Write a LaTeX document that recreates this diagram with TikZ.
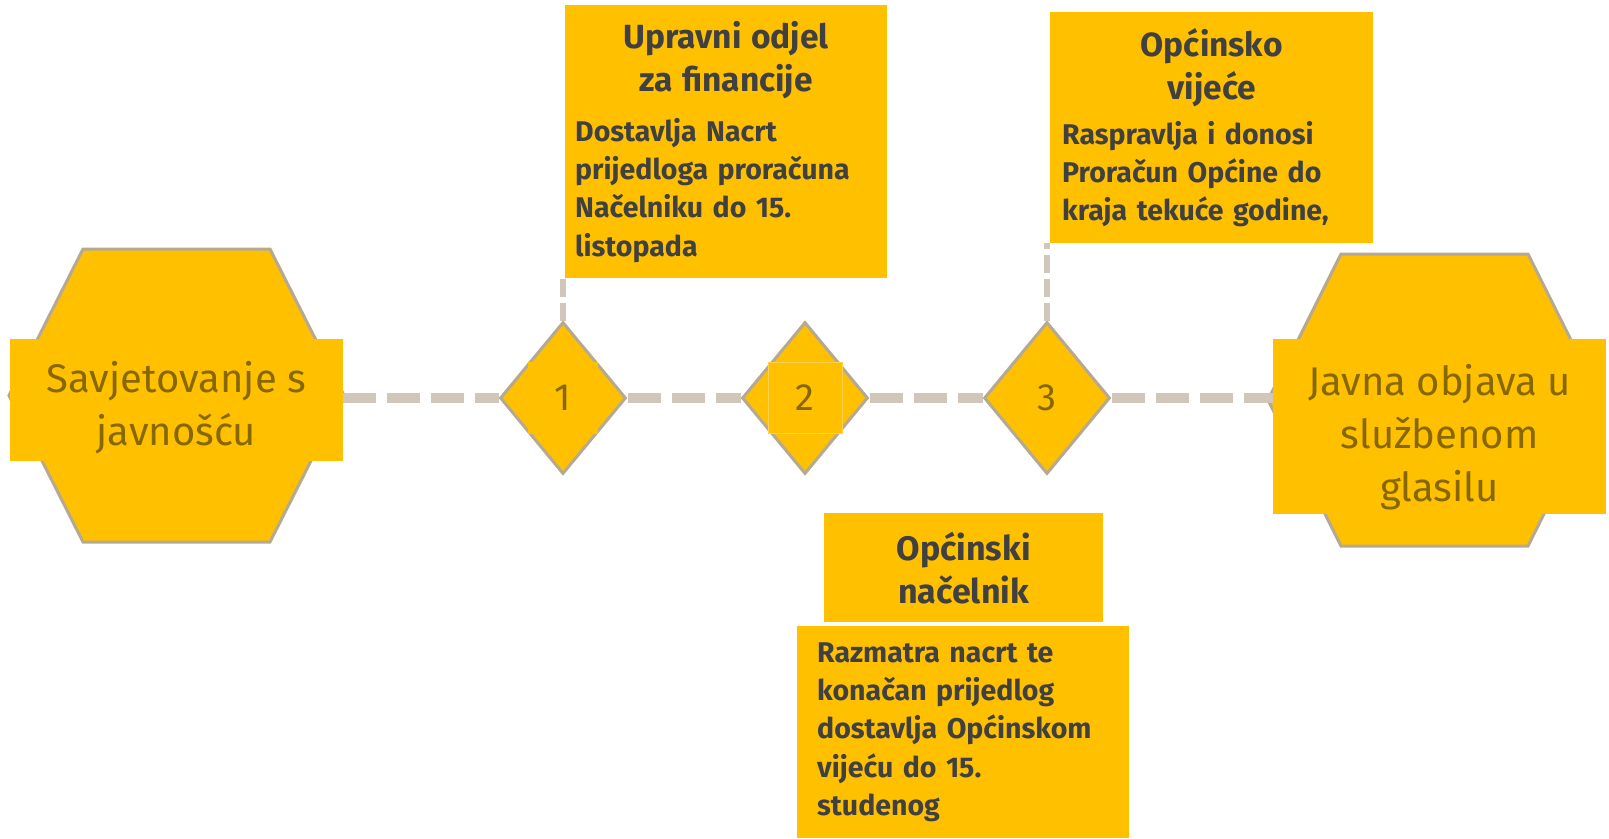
\documentclass[tikz,border=0pt]{standalone}
\usepackage{fontspec}
\setmainfont{Fira Sans}
\usetikzlibrary{shapes.geometric}

\definecolor{gold}{HTML}{FFC000}
\definecolor{inkgray}{HTML}{404040}
\definecolor{olive}{HTML}{876800}
\definecolor{rim}{HTML}{B5A993}
\definecolor{dashgray}{HTML}{D0C6B9}
\definecolor{paleedge}{HTML}{FFD24D}

\newcommand{\boxhead}[2][10pt]{{\centering\fontsize{33.5}{43}\selectfont #2\par}\vspace{#1}}

\tikzset{
  hexa/.style={fill=gold, draw=rim, line width=3pt, line join=miter},
  hexbox/.style={fill=gold, text=olive, align=center, inner sep=0pt, font=\fontsize{40}{53}\selectfont},
  rhomb/.style={diamond, fill=gold, draw=rim, line width=3pt, inner sep=0pt, minimum width=126pt, minimum height=152pt},
  numbox/.style={fill=gold, text=olive, inner sep=0pt, minimum height=72pt, font=\fontsize{38}{44}\selectfont},
  infobox/.style={fill=gold, text=inkgray, align=left, inner ysep=0pt, anchor=north west, font=\bfseries\fontsize{28.5}{38.3}\selectfont},
  headbox/.style={fill=gold, text=inkgray, align=center, inner sep=0pt, anchor=north west, font=\bfseries\fontsize{34}{43}\selectfont},
  timeline/.style={draw=dashgray, line width=10pt, dash pattern=on 33pt off 11pt},
  drop/.style={draw=dashgray, line width=6pt, dash pattern=on 18pt off 6pt},
}

\begin{document}
\begin{tikzpicture}[x=1pt,y=-1pt]
        \useasboundingbox (0,0) rectangle (1609,838);

        % hexagons at both ends
        \draw[hexa] (9,395.5) -- ++(74,-146.5) -- ++(187,0) -- ++(74,146.5) -- ++(-74,146.5) -- ++(-187,0) -- cycle;
        \draw[hexa] (1268,400) -- ++(73,-146) -- ++(187,0) -- ++(73,146) -- ++(-73,146) -- ++(-187,0) -- cycle;
        \node[hexbox, minimum width=333pt, minimum height=122pt, text height=100pt] (start) at (176.5,400) {Savjetovanje s\\javnošću};
        \node[hexbox, minimum width=333pt, minimum height=175pt, text height=158pt] (finish) at (1439.5,426.5) {Javna objava u\\službenom\\glasilu};

        % steps
        \node[rhomb] (d1) at (563,398) {};
        \node[rhomb] (d2) at (805,398) {};
        \node[rhomb] (d3) at (1047,398) {};

        \draw[timeline] (d1 -| start.east) -- (d1);
        \draw[timeline] (d1) -- (d2);
        \draw[timeline] (d2) -- (d3);
        \draw[timeline] (d3) -- (d3 -| finish.west);

        \node[numbox, minimum width=70pt] (n1) at (d1) {1};
        \node[numbox, minimum width=74pt, minimum height=71pt, draw=paleedge, line width=0.8pt] (n2) at (d2) {2};
        \node[numbox, minimum width=60pt] (n3) at (d3) {3};

        % descriptions
        \node[infobox, text width=302pt, minimum height=273pt, inner xsep=10pt] (box1) at (565,5)
                {\boxhead[12pt]{Upravni odjel\\za financije}Dostavlja Nacrt\\prijedloga proračuna\\Načelniku do 15.\\listopada};
        \node[infobox, text width=299pt, minimum height=231pt, inner xsep=12pt] (box3) at (1050,12)
                {\boxhead[7pt]{Općinsko\\vijeće}Raspravlja i donosi\\Proračun Općine do\\kraja tekuće godine,};
        \node[headbox, minimum width=279pt, minimum height=109pt] (head2) at (824,513) {Općinski\\načelnik};
        \node[infobox, text width=292pt, minimum height=212pt, inner xsep=20pt] (box2) at (797,626)
                {Razmatra nacrt te\\konačan prijedlog\\dostavlja Općinskom\\vijeću do 15.\\studenog};

        \draw[drop] (d1.north) -- (d1.north |- box1.south);
        \draw[drop] (d3.north) -- (d3.north |- box3.south);
\end{tikzpicture}
\end{document}
